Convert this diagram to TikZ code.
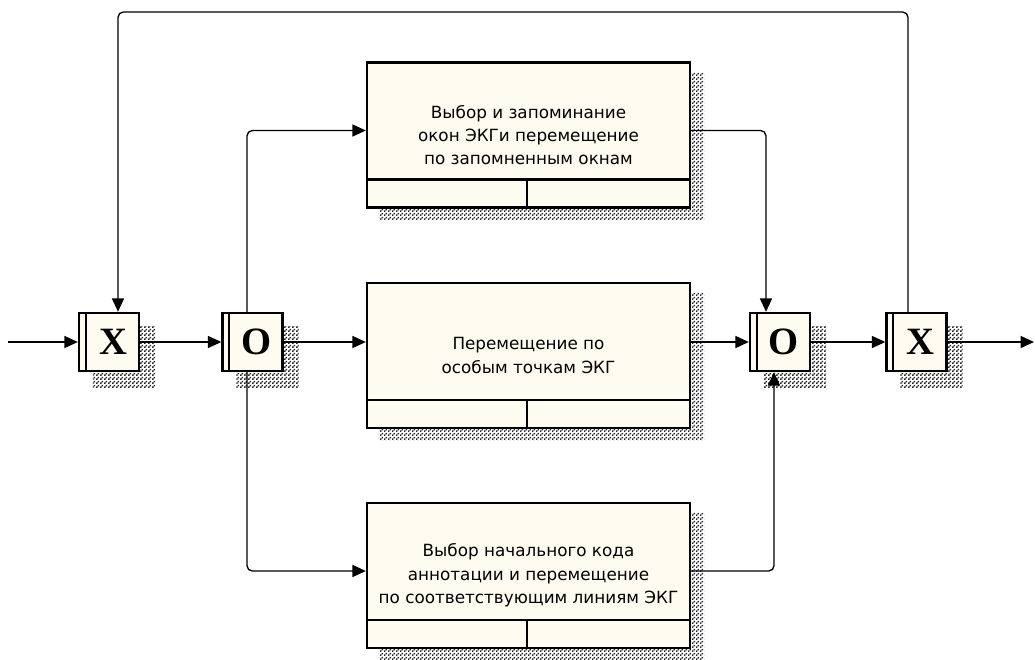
\documentclass[tikz,border=0pt]{standalone}
\usepackage{fontspec}
\setmainfont{Liberation Serif}
\newfontfamily\boxfont{DejaVu Sans}
\usetikzlibrary{patterns,backgrounds,arrows.meta,calc}
\pgfdeclarepatternformonly{finedots}{\pgfqpoint{0pt}{0pt}}{\pgfqpoint{3pt}{3pt}}{\pgfqpoint{3pt}{3pt}}{%
\pgfpathrectangle{\pgfqpoint{0pt}{0pt}}{\pgfqpoint{1.4pt}{1.4pt}}%
\pgfpathrectangle{\pgfqpoint{1.5pt}{1.5pt}}{\pgfqpoint{1.4pt}{1.4pt}}%
\pgfusepath{fill}}
\definecolor{cream}{RGB}{254,252,240}
\newcommand\dropshade[3]{\fill[pattern=finedots,pattern color=black!85] ([shift={(#2,#3)}]#1.south west) rectangle ([shift={(#2,#3)}]#1.north east);}
\begin{document}
\begin{tikzpicture}[x=0.75pt,y=-0.75pt,
  proc/.style={draw,line width=1.8pt,fill=cream,minimum width=242.25pt,minimum height=108.5pt,
    align=center,font=\boxfont\fontsize{12.6}{17.5}\selectfont,inner sep=0pt},
  junc/.style={draw,line width=1.8pt,fill=cream,minimum width=45pt,minimum height=43.5pt,
    inner sep=0pt,font=\fontsize{29}{29}\selectfont\bfseries},
  conn/.style={line width=1pt,-{Triangle[length=10pt,width=9pt]}},
  rc/.style={rounded corners=4pt}]
\useasboundingbox (0,0) rectangle (1035,660);
% nodes
\node[proc] (top) at (528.5,135) {Выбор и запоминание\\окон ЭКГи перемещение\\по запомненным окнам};
\node[proc] (mid) at (528.5,355.5) {Перемещение по\\особым точкам ЭКГ};
\node[proc] (bot) at (528.5,575.5) {Выбор начального кода\\аннотации и перемещение\\по соответствующим линиям ЭКГ};
\node[junc] (x1) at (109,342) {\hspace*{6pt}X};
\node[junc] (o1) at (252.5,342) {\hspace*{6pt}O};
\node[junc] (o2) at (780,342) {\hspace*{6pt}O};
\node[junc] (x2) at (916.5,342) {\hspace*{6pt}X};
% box dividers
\foreach \b in {top,mid,bot}{
  \draw[line width=1.8pt] ([yshift=21.75pt]\b.south west) -- ([yshift=21.75pt]\b.south east);
  \draw[line width=1.8pt] ($(\b.south west)!0.495!(\b.south east)$) -- ++(0pt,21.75pt);
}
\foreach \j in {x1,o1,o2,x2}{
  \draw[line width=1.5pt] ([xshift=6pt]\j.north west) -- ([xshift=6pt]\j.south west);
}
% shadows
\begin{scope}[on background layer]
\dropshade{top}{9.75pt}{-8.25pt}
\dropshade{mid}{9.75pt}{-8.25pt}
\dropshade{bot}{9.75pt}{-8.25pt}
\dropshade{x1}{11.25pt}{-11.25pt}
\dropshade{o1}{11.25pt}{-11.25pt}
\dropshade{o2}{11.25pt}{-11.25pt}
\dropshade{x2}{11.25pt}{-11.25pt}
\end{scope}
% helper coordinates
\coordinate (in) at (8,342);
\coordinate (out) at (1034,342);
\coordinate (bl) at (247,130.5);
\coordinate (bb) at (247,571);
\coordinate (tr) at (766,130.5);
\coordinate (br) at (774,571);
\coordinate (fl) at (118,12);
\coordinate (fr) at (908,12);
% connectors
\draw[conn] (in) -- (x1.west);
\draw[conn] (x1.east) -- (o1.west);
\draw[conn] (o1.east) -- (mid.west |- o1.east);
\draw[conn] (mid.east |- o2.west) -- (o2.west);
\draw[conn] (o2.east) -- (x2.west);
\draw[conn] (x2.east) -- (out);
\draw[conn,rc] (o1.north -| bl) |- (top.west |- bl);
\draw[conn,rc] (o1.south -| bb) |- (bot.west |- bb);
\draw[conn,rc] (top.east |- tr) -| (o2.north -| tr);
\draw[conn,rc] (bot.east |- br) -| (o2.south -| br);
\draw[conn,rc] (x2.north -| fr) -- (fr) -- (fl) -- (x1.north -| fl);
\end{tikzpicture}
\end{document}
